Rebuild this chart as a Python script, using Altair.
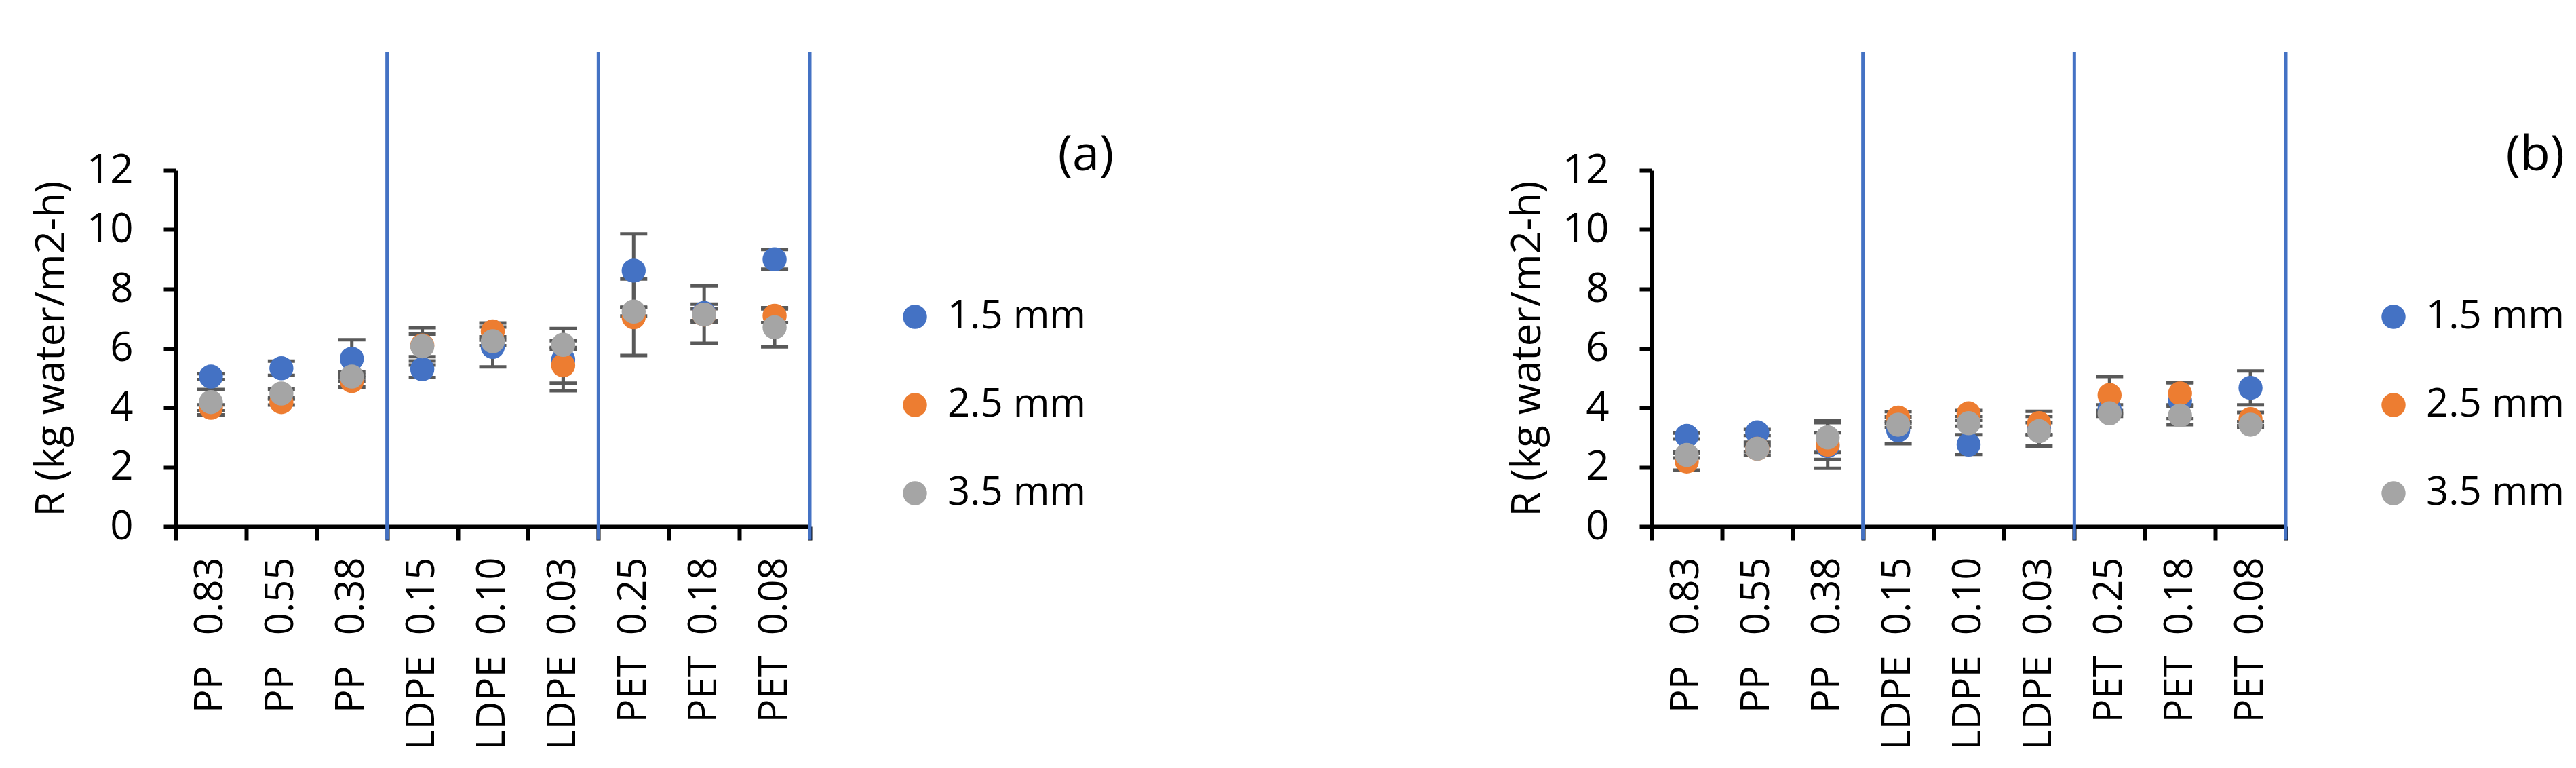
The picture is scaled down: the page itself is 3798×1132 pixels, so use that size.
import altair as alt
import pandas as pd

# ---------------- data ----------------
NB = "\u00a0"
categories = [
    "PP" + NB * 3 + "0.83", "PP" + NB * 3 + "0.55", "PP" + NB * 3 + "0.38",
    "LDPE" + NB * 2 + "0.15", "LDPE" + NB * 2 + "0.10", "LDPE" + NB * 2 + "0.03",
    "PET" + NB * 2 + "0.25", "PET" + NB * 2 + "0.18", "PET" + NB * 2 + "0.08",
]
series = ["1.5 mm", "2.5 mm", "3.5 mm"]
colors = ["#4472C4", "#ED7D31", "#A5A5A5"]

# panel (a)
a_15 = [5.05, 5.33, 5.65, 5.30, 6.05, 5.62, 8.62, 7.19, 9.00]
a_25 = [4.00, 4.19, 4.90, 6.10, 6.57, 5.43, 7.05, 7.14, 7.10]
a_35 = [4.19, 4.48, 5.05, 6.07, 6.24, 6.12, 7.24, 7.14, 6.71]
a_15_err = [0.10, 0.24, 0.64, 0.28, 0.67, 1.05, 1.24, 0.30, 0.33]
a_25_err = [0.10, 0.10, 0.20, 0.38, 0.29, 0.60, 1.29, 0.20, 0.23]
a_35_err = [0.43, 0.15, 0.15, 0.63, 0.15, 0.14, 0.15, 0.97, 0.66]

# panel (b)
b_15 = [3.05, 3.17, 2.71, 3.24, 2.76, 3.30, 3.95, 4.24, 4.67]
b_25 = [2.19, 2.62, 2.76, 3.67, 3.81, 3.48, 4.43, 4.48, 3.62]
b_35 = [2.41, 2.62, 3.00, 3.43, 3.48, 3.21, 3.81, 3.74, 3.43]
b_15_err = [0.10, 0.10, 0.45, 0.45, 0.33, 0.20, 0.15, 0.60, 0.57]
b_25_err = [0.29, 0.10, 0.80, 0.20, 0.10, 0.40, 0.62, 0.38, 0.22]
b_35_err = [0.10, 0.22, 0.50, 0.10, 0.10, 0.50, 0.10, 0.31, 0.10]

# group separators (drawn at the right edge of these categories)
sep_categories = [categories[2], categories[5], categories[8]]
sep_low = [-0.45, -0.45, -0.45]
sep_high = [16, 16, 16]

y_ticks = [0, 2, 4, 6, 8, 10, 12]
y_title = "R (kg water/m2-h)"

FONT = "Open Sans"
PLOT_W = 935
PLOT_H = 525


def make_df(vals, errs):
    rows = []
    for s, v, e in zip(series, vals, errs):
        for c, vv, ee in zip(categories, v, e):
            rows.append({"cat": c, "series": s, "value": vv, "lo": vv - ee, "hi": vv + ee})
    return pd.DataFrame(rows)


sep_df = pd.DataFrame({"cat": sep_categories, "lo": sep_low, "hi": sep_high})

xscale = alt.Scale(domain=categories, paddingInner=0, paddingOuter=0)
yscale = alt.Scale(domain=[0, 12], nice=False, zero=True)
xaxis = alt.Axis(
    title=None, labelAngle=270, tickBand="extent", labelFont=FONT,
    labelFontSize=58, labelColor="black", labelPadding=25, labelLimit=600,
    domainColor="black", domainWidth=6, tickColor="black", tickWidth=6,
    tickSize=20, grid=False,
)
yaxis = alt.Axis(
    title=y_title, values=y_ticks, labelFont=FONT, labelFontSize=60,
    labelColor="black", labelPadding=45, domainColor="black", domainWidth=6,
    tickColor="black", tickWidth=6, tickSize=18, grid=False,
    titleFont=FONT, titleFontSize=60, titleFontWeight="normal",
    titleColor="black", titlePadding=20,
)


def X(**kw):
    return alt.X("cat:N", scale=xscale, axis=xaxis, **kw)


def Y(field):
    return alt.Y(field, scale=yscale, axis=yaxis, title=y_title)


def panel(vals, errs, tag, legend_x, legend_y, tag_align):
    df = make_df(vals, errs)
    base = alt.Chart(df)

    bars = base.mark_rule(color="#595959", strokeWidth=5, opacity=1).encode(
        x=X(), y=Y("lo:Q"), y2="hi:Q"
    )
    cap_lo = base.mark_tick(color="#595959", thickness=5, size=40, opacity=1).encode(
        x=X(), y=Y("lo:Q")
    )
    cap_hi = base.mark_tick(color="#595959", thickness=5, size=40, opacity=1).encode(
        x=X(), y=Y("hi:Q")
    )
    pts = base.mark_circle(size=1257, opacity=1, strokeWidth=0).encode(
        x=X(),
        y=Y("value:Q"),
        color=alt.Color(
            "series:N",
            scale=alt.Scale(domain=series, range=colors),
            legend=alt.Legend(
                title=tag, orient="none", legendX=legend_x, legendY=legend_y,
                direction="vertical", titleAnchor="end", titleAlign=tag_align,
                titleFont=FONT, titleFontSize=72, titleFontWeight="normal",
                titleColor="black", titlePadding=172, titleLimit=400,
                symbolType="circle", symbolSize=1257, symbolStrokeWidth=0,
                symbolOpacity=1, labelFont=FONT, labelFontSize=58,
                labelColor="black", labelOffset=19, rowPadding=72,
                labelLimit=800,
            ),
        ),
    )
    seps = alt.Chart(sep_df).mark_rule(color="#4472C4", strokeWidth=5).encode(
        x=X(bandPosition=1),
        y=Y("lo:Q"),
        y2="hi:Q",
    )
    return alt.layer(bars, cap_lo, cap_hi, pts, seps).properties(
        width=PLOT_W, height=PLOT_H
    )


pa = panel([a_15, a_25, a_35], [a_15_err, a_25_err, a_35_err], "(a)", 1061, -57, "center")
pb = panel([b_15, b_25, b_35], [b_15_err, b_25_err, b_35_err], "(b)", 1065, -57, "right")

chart = alt.hconcat(pa, pb, spacing=1241, bounds="flush").resolve_scale(
    color="independent"
).resolve_legend(color="independent").properties(
    padding={"left": 38, "top": 65, "right": 5, "bottom": 5},
    background="white",
).configure_view(stroke=None)

chart.save("out.html", embed_options={"renderer": "svg", "actions": False})
